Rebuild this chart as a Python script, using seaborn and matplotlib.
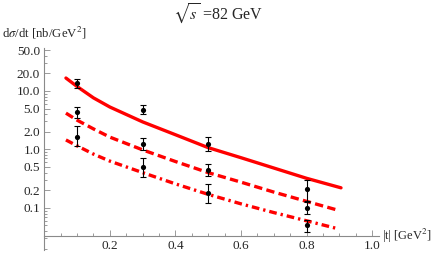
import numpy as np
import pandas as pd
import matplotlib
matplotlib.use("Agg")
import matplotlib.pyplot as plt
import seaborn as sns

# measured points, |t| in GeV^2, dsigma/dt in nb/GeV^2
t_pts = [0.1, 0.1, 0.1, 0.3, 0.3, 0.3, 0.5, 0.5, 0.5, 0.8, 0.8, 0.8]
xs_pts = [13.5, 4.3, 1.66, 4.7, 1.24, 0.49, 1.24, 0.45, 0.178, 0.211, 0.101, 0.0506]
xs_hi = [15.8, 5.4, 2.55, 5.7, 1.59, 0.70, 1.62, 0.57, 0.26, 0.30, 0.128, 0.0625]
xs_lo = [11.0, 3.45, 1.12, 4.05, 0.98, 0.34, 0.95, 0.35, 0.123, 0.133, 0.078, 0.039]

# model curves
t_solid = [0.066, 0.1, 0.15, 0.2, 0.3, 0.4, 0.5, 0.6, 0.7, 0.8, 0.905]
y_solid = [16.6, 11.9, 7.6, 5.3, 2.95, 1.78, 1.07, 0.72, 0.48, 0.32, 0.22]
t_dash = [0.066, 0.1, 0.15, 0.2, 0.3, 0.4, 0.5, 0.6, 0.7, 0.8, 0.89]
y_dash = [4.17, 3.16, 2.24, 1.62, 0.98, 0.62, 0.40, 0.275, 0.186, 0.129, 0.093]
t_dd = [0.066, 0.1, 0.15, 0.2, 0.3, 0.4, 0.5, 0.6, 0.7, 0.8, 0.895]
y_dd = [1.45, 1.15, 0.83, 0.63, 0.40, 0.257, 0.17, 0.117, 0.083, 0.060, 0.044]

ytick_vals = [0.1, 0.2, 0.5, 1.0, 2.0, 5.0, 10.0, 20.0, 50.0]
ytick_labels = ["0.1", "0.2", "0.5", "1.0", "2.0", "5.0", "10.0", "20.0", "50.0"]
xtick_vals = [0.2, 0.4, 0.6, 0.8, 1.0]

sns.set_style("ticks")
plt.rcParams["font.family"] = ["Liberation Serif", "DejaVu Serif"]
plt.rcParams["mathtext.fontset"] = "stix"

fig = plt.figure(figsize=(4.36, 2.54), dpi=100)
ax = fig.add_axes([0.1016, 0.0157, 0.767, 0.795])

red = "#ff0000"
sns.lineplot(x=t_solid, y=y_solid, ax=ax, color=red, lw=2.4, sort=False)
l2 = sns.lineplot(x=t_dash, y=y_dash, ax=ax, color=red, lw=2.4, sort=False).lines[-1]
l2.set_dashes([2.5, 1.3])
l3 = sns.lineplot(x=t_dd, y=y_dd, ax=ax, color=red, lw=2.4, sort=False).lines[-1]
l3.set_dashes([2.3, 1.2, 0.7, 1.2])

yerr = np.array([np.array(xs_pts) - np.array(xs_lo), np.array(xs_hi) - np.array(xs_pts)])
ax.errorbar(t_pts, xs_pts, yerr=yerr, fmt="none", ecolor="black", elinewidth=0.8,
            capsize=2.5, capthick=0.8, zorder=4)
sns.scatterplot(x=t_pts, y=xs_pts, ax=ax, color="black", s=14, edgecolor="black",
                linewidth=0, zorder=5)

ax.set_yscale("log")
ax.set_xlim(0, 1.02)
ax.set_ylim(0.019, 54)

gray = "#8a8a8a"
for s in ["top", "right"]:
    ax.spines[s].set_visible(False)
ax.spines["left"].set_color(gray)
ax.spines["bottom"].set_color(gray)
ax.spines["bottom"].set_position(("data", 0.0332))
ax.spines["left"].set_linewidth(0.8)
ax.spines["bottom"].set_linewidth(0.8)

ax.set_yticks(ytick_vals)
ax.set_yticklabels(ytick_labels)
ax.set_xticks(xtick_vals)
ax.set_xticklabels([f"{v:.1f}" for v in xtick_vals])
ax.set_xticks(np.arange(0.05, 1.01, 0.05), minor=True)
ax.yaxis.set_minor_locator(matplotlib.ticker.LogLocator(subs=np.arange(2, 10)))
ax.yaxis.set_minor_formatter(matplotlib.ticker.NullFormatter())
ax.tick_params(which="both", direction="in", color=gray, labelsize=9.5, width=0.6)
ax.tick_params(which="major", length=4, pad=3)
ax.tick_params(which="minor", length=2)

fig.text(0.5, 0.945, r"$\sqrt{s}$ =82 GeV", ha="center", va="center", fontsize=11.5)
fig.text(0.005, 0.87, r"d$\sigma$/dt [nb/GeV$^2$]", ha="left", va="center", fontsize=9.2)
fig.text(0.876, 0.072, r"|t| [GeV$^2$]", ha="left", va="center", fontsize=9)

fig.savefig("out.png", dpi=100)
